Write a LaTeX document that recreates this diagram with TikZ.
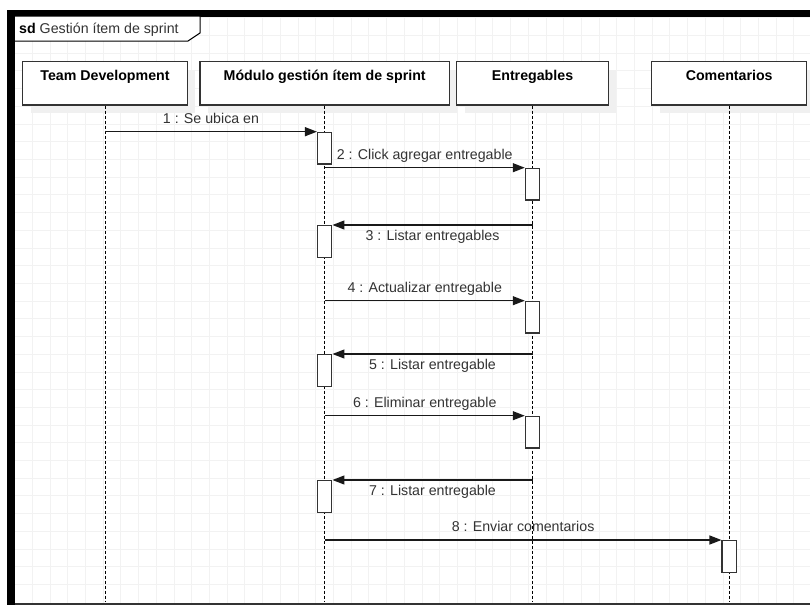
\documentclass[tikz,border=0pt]{standalone}
\usepackage{fontspec}
\setmainfont{Liberation Sans}
\usetikzlibrary{positioning, arrows.meta, shadows}
\definecolor{gridgray}{HTML}{F2F2F2}
\definecolor{inkgray}{HTML}{333333}
\definecolor{shadegray}{HTML}{F0F0F0}

\begin{document}
\begin{tikzpicture}[x=1pt, y=-1pt, font=\fontsize{14.2}{17}\selectfont]
\tikzstyle{every node}+=[inner sep=0pt]
\tikzstyle{head}=[draw=inkgray, line width=1.3pt, fill=white, anchor=north, minimum height=43.3pt, drop shadow={shadow xshift=8pt, shadow yshift=-8pt, fill=shadegray, opacity=1}]
\tikzstyle{headtext}=[font=\fontsize{14.2}{17}\selectfont\bfseries, text=black, text height=10.5pt]
\tikzstyle{life}=[black, line width=1pt, dash pattern=on 3pt off 2pt]
\tikzstyle{act}=[draw=inkgray, line width=1.3pt, fill=white, anchor=north, minimum width=14.2pt, minimum height=31.6pt]
\tikzstyle{msg}=[black!90, line width=1.2pt, -{Triangle[length=12pt, width=9pt]}]
\tikzstyle{msgtext}=[text=inkgray, text height=10.5pt, text depth=3pt]

\useasboundingbox (0,0) rectangle (810,605);
\fill [white] (0,0) rectangle (810,605);

\foreach \i in {1,...,44}
  \draw [gridgray, line width=0.8pt] (14.6+17.71*\i,16) -- (14.6+17.71*\i,603);
\foreach \j in {1,...,33}
  \draw [gridgray, line width=0.8pt] (15,17.71*\j) -- (810,17.71*\j);

\fill [black] (7,10) rectangle (810,16.5);
\fill [black] (7,10) rectangle (15,605);
\draw [inkgray, line width=2pt] (15,603.5) -- (810,603.5);

\draw [black, line width=1pt, fill=white] (15,16) -- (200,16) -- (200,33) -- (188,41) -- (15,41);
\node [anchor=base west, text=inkgray] (title) at (19,33) {\textcolor{black}{\textbf{sd}} Gestión ítem de sprint};

\node [head, minimum width=164.6pt] (td) at (105,61) {};
\node [head, minimum width=249.3pt] (mod) at (324.7,61) {};
\node [head, minimum width=151.6pt] (ent) at (532.5,61) {};
\node [head, minimum width=155pt] (com) at (729.2,61) {};

\node [headtext, below=9pt of td.north] (tdname) {Team Development};
\node [headtext, below=9pt of mod.north] (modname) {Módulo gestión ítem de sprint};
\node [headtext, below=9pt of ent.north] (entname) {Entregables};
\node [headtext, below=9pt of com.north] (comname) {Comentarios};

\coordinate (tdbot) at (td.south |- 0,602);
\coordinate (modbot) at (mod.south |- 0,602);
\coordinate (entbot) at (ent.south |- 0,602);
\coordinate (combot) at (com.south |- 0,602);
\draw [life] (td) -- (tdbot);
\draw [life] (mod) -- (modbot);
\draw [life] (ent) -- (entbot);
\draw [life] (com) -- (combot);

\node [act] (a1) at (mod.south |- 0,131.7) {};
\node [act] (a2) at (ent.south |- 0,167.7) {};
\node [act] (a3) at (mod.south |- 0,225) {};
\node [act] (a4) at (ent.south |- 0,300.7) {};
\node [act] (a5) at (mod.south |- 0,354) {};
\node [act] (a6) at (ent.south |- 0,415.7) {};
\node [act] (a7) at (mod.south |- 0,480) {};
\node [act] (a8) at (com.south |- 0,540) {};

\coordinate (s1) at (td.south |- a1.north);
\coordinate (s2) at (mod.south |- a2.north);
\coordinate (s3) at (ent.south |- a3.north);
\coordinate (s4) at (mod.south |- a4.north);
\coordinate (s5) at (ent.south |- a5.north);
\coordinate (s6) at (mod.south |- a6.north);
\coordinate (s7) at (ent.south |- a7.north);
\coordinate (s8) at (mod.south |- a8.north);

\draw [msg] (s1) -- (a1.north west) node [msgtext, midway, above=5pt] (l1) {1 : Se ubica en};
\draw [msg] (s2) -- (a2.north west) node [msgtext, midway, above=5pt] (l2) {2 : Click agregar entregable};
\draw [msg] (s3) -- (a3.north east) node [msgtext, midway, below=4.5pt] (l3) {3 : Listar entregables};
\draw [msg] (s4) -- (a4.north west) node [msgtext, midway, above=5pt] (l4) {4 : Actualizar entregable};
\draw [msg] (s5) -- (a5.north east) node [msgtext, midway, below=4.5pt] (l5) {5 : Listar entregable};
\draw [msg] (s6) -- (a6.north west) node [msgtext, midway, above=5pt] (l6) {6 : Eliminar entregable};
\draw [msg] (s7) -- (a7.north east) node [msgtext, midway, below=4.5pt] (l7) {7 : Listar entregable};
\draw [msg] (s8) -- (a8.north west) node [msgtext, midway, above=5pt] (l8) {8 : Enviar comentarios};
\end{tikzpicture}
\end{document}
